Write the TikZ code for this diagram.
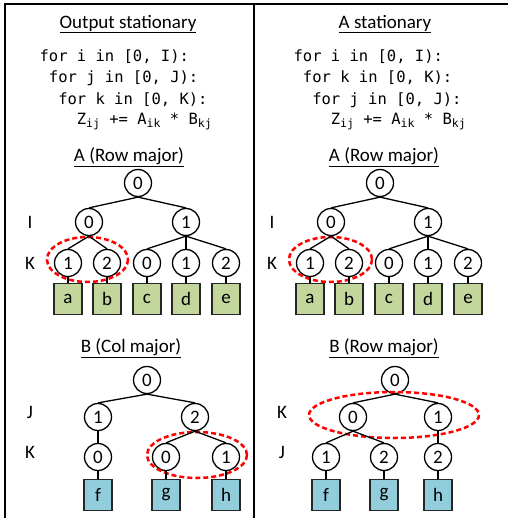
\documentclass[tikz,border=0pt]{standalone}
\usepackage{fontspec}
\setmainfont{Carlito}
\setmonofont{DejaVu Sans Mono}
\definecolor{leafgreen}{RGB}{195,214,155}
\definecolor{leafblue}{RGB}{146,205,220}
\newcommand{\idxsub}[1]{\raisebox{-3pt}{\fontsize{11.5}{12}\selectfont #1}}
\tikzstyle{every node}=[font=\fontsize{19}{22}\selectfont]
\tikzstyle{code}=[anchor=base west,inner sep=0,font=\fontsize{15.5}{21}\ttfamily]
\tikzstyle{idx}=[draw=black,circle,inner sep=0,minimum size=27pt]
\tikzstyle{leafA}=[draw=black!85,fill=leafgreen,minimum width=28pt,minimum height=31pt,inner sep=0]
\tikzstyle{leafB}=[draw=black!85,fill=leafblue,minimum width=28pt,minimum height=31pt,inner sep=0]
\tikzstyle{hl}=[red,line width=2.5pt,dash pattern=on 5pt off 3pt]

\begin{document}
\begin{tikzpicture}[x=1pt,y=-1pt,line width=1.3pt]
\useasboundingbox (0,0) rectangle (508,518);
\draw[line width=2pt] (5,518) -- (5,4) -- (508,4);
\draw[line width=2pt] (254,4) -- (254,518);

\node (otitle) at (128,24) {\underline{Output stationary}};
\node[code] (oc1) at (39,62) {for i in [0, I):};
\node[code] (oc2) at (48.3,83) {for j in [0, J):};
\node[code] (oc3) at (57.6,105) {for k in [0, K):};
\node[code] (oc4) at (76.2,125) {Z\idxsub{ij} += A\idxsub{ik} * B\idxsub{kj}};

\node (stitle) at (385,24) {\underline{A stationary}};
\node[code] (sc1) at (293,62) {for i in [0, I):};
\node[code] (sc2) at (302.3,83) {for k in [0, K):};
\node[code] (sc3) at (311.6,105) {for j in [0, J):};
\node[code] (sc4) at (330.2,125) {Z\idxsub{ij} += A\idxsub{ik} * B\idxsub{kj}};

\node (oatitle) at (129,157) {\underline{A (Row major)}};
\node (oli) at (30,222) {I};
\node (olk) at (30,263) {K};
\node[idx] (oa) at (138,183) {0};
\node[idx] (oa0) at (89,222) {0};
\node[idx] (oa1) at (186,222) {1};
\node[idx] (oa01) at (68,263) {1};
\node[idx] (oa02) at (107,263) {2};
\node[idx] (oa10) at (147,263) {0};
\node[idx] (oa11) at (186,263) {1};
\node[idx] (oa12) at (226,263) {2};
\node[leafA] (oaa) at (68,299) {a};
\node[leafA] (oab) at (107,299) {b};
\node[leafA] (oac) at (147,299) {c};
\node[leafA] (oad) at (186,299) {d};
\node[leafA] (oae) at (226,299) {e};
\draw[hl] (87.5,259.5) ellipse [x radius=40.5,y radius=22.5];

\node (satitle) at (384,157) {\underline{A (Row major)}};
\node (sli) at (272,222) {I};
\node (slk) at (272,263) {K};
\node[idx] (sa) at (380,183) {0};
\node[idx] (sa0) at (331,222) {0};
\node[idx] (sa1) at (428,222) {1};
\node[idx] (sa01) at (310,263) {1};
\node[idx] (sa02) at (349,263) {2};
\node[idx] (sa10) at (389,263) {0};
\node[idx] (sa11) at (428,263) {1};
\node[idx] (sa12) at (468,263) {2};
\node[leafA] (saa) at (310,299) {a};
\node[leafA] (sab) at (349,299) {b};
\node[leafA] (sac) at (389,299) {c};
\node[leafA] (sad) at (428,299) {d};
\node[leafA] (sae) at (468,299) {e};
\draw[hl] (330.5,259.5) ellipse [x radius=41.5,y radius=22.5];

\node (obtitle) at (131,348) {\underline{B (Col major)}};
\node (olj) at (30,412) {J};
\node (olk2) at (30,452) {K};
\node[idx] (ob) at (147,380) {0};
\node[idx] (ob1) at (98,417) {1};
\node[idx] (ob2) at (195,417) {2};
\node[idx] (ob10) at (98,457) {0};
\node[idx] (ob20) at (166,457) {0};
\node[idx] (ob21) at (226,457) {1};
\node[leafB] (obf) at (98,495) {f};
\node[leafB] (obg) at (166,495) {g};
\node[leafB] (obh) at (226,495) {h};
\draw[hl] (197,455) ellipse [x radius=50,y radius=23];

\node (sbtitle) at (384,348) {\underline{B (Row major)}};
\node (slk2) at (282,412) {K};
\node (slj) at (282,452) {J};
\node[idx] (sb) at (395,380) {0};
\node[idx] (sb0) at (353,417) {0};
\node[idx] (sb1) at (438,417) {1};
\node[idx] (sb01) at (326,457) {1};
\node[idx] (sb02) at (384,457) {2};
\node[idx] (sb12) at (438,457) {2};
\node[leafB] (sbf) at (326,495) {f};
\node[leafB] (sbg) at (384,495) {g};
\node[leafB] (sbh) at (438,495) {h};
\draw[hl] (394,415) ellipse [x radius=85,y radius=23];

\foreach \p/\c in {oa/oa0,oa/oa1,oa0/oa01,oa0/oa02,oa1/oa10,oa1/oa11,oa1/oa12,
  oa01/oaa,oa02/oab,oa10/oac,oa11/oad,oa12/oae,
  sa/sa0,sa/sa1,sa0/sa01,sa0/sa02,sa1/sa10,sa1/sa11,sa1/sa12,
  sa01/saa,sa02/sab,sa10/sac,sa11/sad,sa12/sae,
  ob/ob1,ob/ob2,ob1/ob10,ob2/ob20,ob2/ob21,ob10/obf,ob20/obg,ob21/obh,
  sb/sb0,sb/sb1,sb0/sb01,sb0/sb02,sb1/sb12,sb01/sbf,sb02/sbg,sb12/sbh}
  \draw (\p.south) -- (\c.north);
\end{tikzpicture}
\end{document}
